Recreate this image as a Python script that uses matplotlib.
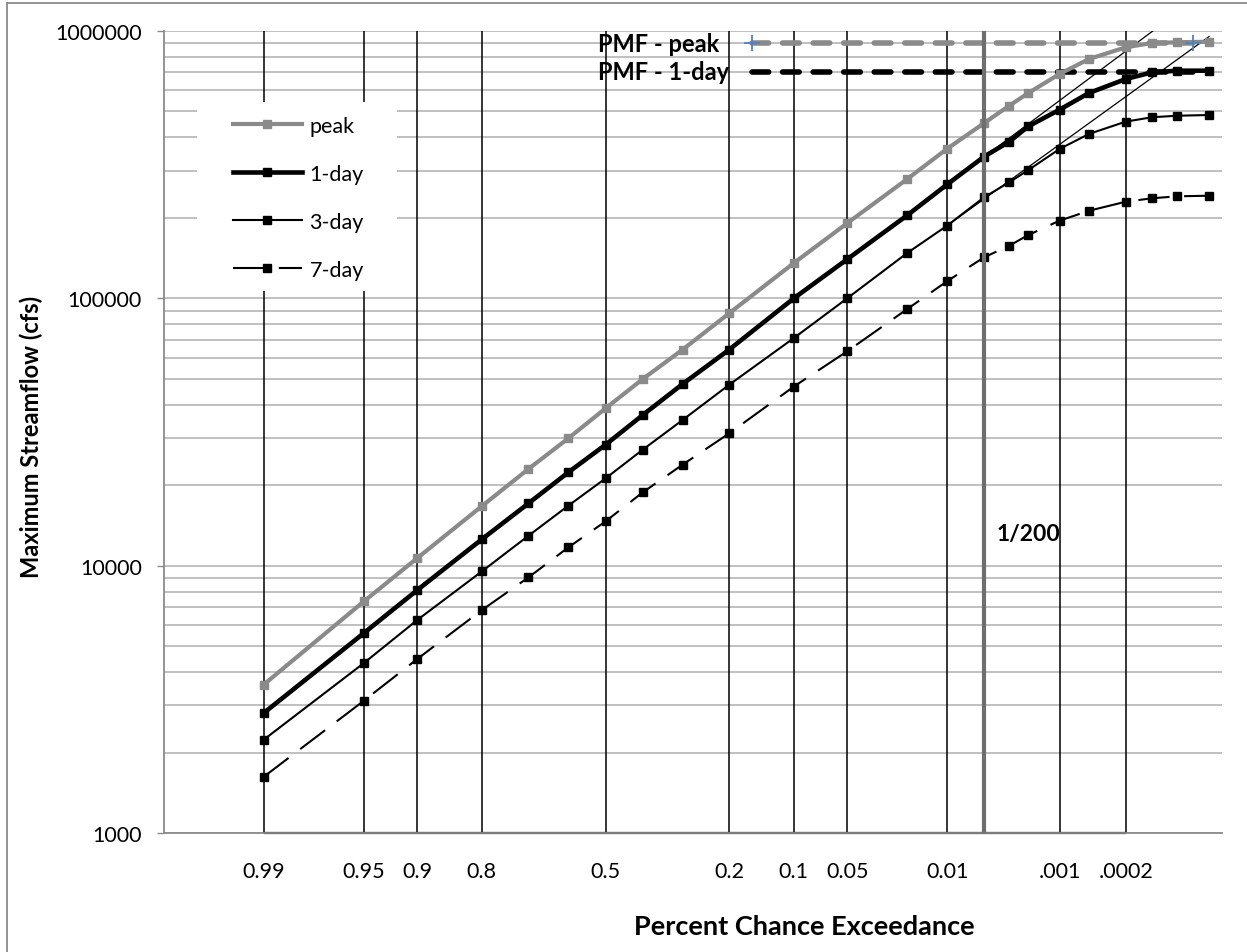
import statistics

import numpy as np
import matplotlib
matplotlib.use("Agg")
import matplotlib.pyplot as plt
from matplotlib.lines import Line2D
from matplotlib.patches import Rectangle
from matplotlib.ticker import FixedLocator, FixedFormatter, NullLocator

plt.rcParams['font.family'] = ['Lato', 'DejaVu Sans']

W, H = 1247, 953

# exceedance probability of each computed point
prob = [0.99, 0.95, 0.9, 0.8, 0.7, 0.6, 0.5, 0.4, 0.3, 0.2, 0.1, 0.05, 0.02,
        0.01, 0.005, 0.003, 0.002, 0.001, 0.0005, 0.0002, 0.0001, 0.00005, 0.00002]

# maximum streamflow (cfs)
peak = [3590, 7350, 10670, 16700, 23000, 29940, 38750, 49900, 64270, 87900,
        135500, 191000, 279500, 363000, 452000, 525500, 586200, 690500,
        785600, 868700, 901700, 907000, 912000]
day1 = [2810, 5594, 8100, 12550, 17100, 22340, 28330, 36590, 47790, 64270,
        100000, 140000, 204500, 267000, 338700, 385400, 440100, 507700,
        586200, 661000, 700300, 710500, 710500]
day3 = [2233, 4321, 6260, 9520, 12940, 16760, 21200, 27150, 35050, 47500,
        71000, 100000, 147800, 187200, 238600, 271600, 302000, 361900,
        412000, 458000, 475700, 482000, 485000]
day7 = [1622, 3124, 4475, 6820, 9040, 11700, 14640, 18800, 23860, 31250,
        46750, 63360, 91200, 116000, 142300, 157300, 172600, 195200,
        212600, 229800, 236700, 240800, 242000]

# straight log-normal extensions of the 1-day and 3-day curves
trend_prob = [0.01, 0.00002]
trend_1day = [267000, 1435000]
trend_3day = [187200, 953000]

# probable maximum flood
pmf_prob = [0.1587, 0.0000317]
pmf_peak = [905000, 905000]
pmf_1day = [700000, 700000]

grid_prob = [0.99, 0.95, 0.9, 0.8, 0.5, 0.2, 0.1, 0.05, 0.01, 0.001, 0.0002]
grid_labels = ['0.99', '0.95', '0.9', '0.8', '0.5', '0.2', '0.1', '0.05',
               '0.01', '.001', '.0002']
y_ticks = [1000, 10000, 100000, 1000000]
y_labels = ['1000', '10000', '100000', '1000000']

ND = statistics.NormalDist()
_ppf = np.vectorize(lambda p: ND.inv_cdf(min(max(p, 1e-12), 1 - 1e-12)),
                    otypes=[float])
_cdf = np.vectorize(ND.cdf, otypes=[float])


def fwd(p):
    return _ppf(np.asarray(p, dtype=float))


def inv(zv):
    return _cdf(np.asarray(zv, dtype=float))


def fx(px):
    return px / W


def fy(py):
    return 1 - py / H


GRAY = '#8a8a8a'
GRID = '#b5b5b5'

fig = plt.figure(figsize=(W / 100, H / 100), dpi=100)
ax = fig.add_axes([fx(164), fy(834), (1222 - 164) / W, (834 - 32) / H])

ax.set_xscale('function', functions=(fwd, inv))
ax.set_yscale('log')
ax.set_xlim(float(inv(3.005)), float(inv(-4.196)))
ax.set_ylim(1000, 1000000)

ax.xaxis.set_major_locator(FixedLocator(grid_prob))
ax.xaxis.set_major_formatter(FixedFormatter(grid_labels))
ax.xaxis.set_minor_locator(NullLocator())
ax.yaxis.set_major_locator(FixedLocator(y_ticks))
ax.yaxis.set_major_formatter(FixedFormatter(y_labels))

ax.grid(axis='y', which='both', color=GRID, lw=1.2, zorder=0)
ax.set_axisbelow(True)
for s in ['top', 'right']:
    ax.spines[s].set_visible(False)
for s in ['left', 'bottom']:
    ax.spines[s].set_color(GRAY)
    ax.spines[s].set_linewidth(1.3)

ax.tick_params(axis='y', which='major', direction='out', length=5, width=1,
               color=GRAY, pad=11, labelsize=15.5)
ax.tick_params(axis='y', which='minor', length=0)
ax.tick_params(axis='x', length=0, pad=20, labelsize=15.5)

# probability grid lines
ax.vlines(grid_prob, 1000, 1000000, color='black', lw=1.1, zorder=1)
ax.hlines(1000, grid_prob[0], grid_prob[-1], color='black', lw=1.6, zorder=1,
          clip_on=False)

# legend background
ax.add_patch(Rectangle(((197 - 164) / 1058, (834 - 292) / 802), 200 / 1058,
                       189 / 802, transform=ax.transAxes, facecolor='white',
                       edgecolor='none', zorder=2))

ax.plot(trend_prob, trend_1day, color='black', lw=0.9, zorder=3)
ax.plot(trend_prob, trend_3day, color='black', lw=0.9, zorder=3)

ax.plot(pmf_prob, pmf_peak, color=GRAY, lw=4, ls=(0, (3, 2.5)),
        dash_capstyle='round', zorder=3)
ax.plot(pmf_prob, pmf_1day, color='black', lw=4, ls=(0, (3, 2.5)),
        dash_capstyle='round', zorder=3)
ax.plot(pmf_prob, pmf_peak, ls='none', marker='+', ms=12, mew=1.3,
        color='#4f81bd', zorder=6)

h_peak, = ax.plot(prob, peak, color=GRAY, lw=3, marker='s', ms=6, zorder=4)
h_1, = ax.plot(prob, day1, color='black', lw=3.3, marker='s', ms=6, zorder=4)
h_3, = ax.plot(prob, day3, color='black', lw=1.5, marker='s', ms=6, zorder=4)
h_7, = ax.plot(prob, day7, color='black', lw=1.5, marker='s', ms=6,
               ls=(0, (15, 7)), zorder=4)

# 1 in 200 year line
ax.axvline(1 / 200, color='#6e6e6e', lw=3, zorder=5)

ax.legend([h_peak, h_1, h_3, h_7], ['peak', '1-day', '3-day', '7-day'],
          loc='upper left', bbox_to_anchor=((233 - 164) / 1058, (834 - 117) / 802),
          frameon=False, borderaxespad=0, borderpad=0, handlelength=3.2,
          handletextpad=0.35, labelspacing=1.3, fontsize=15.5)

fig.text(fx(598), fy(44), 'PMF - peak', fontsize=17, fontweight='bold',
         ha='left', va='center')
fig.text(fx(598), fy(73), 'PMF - 1-day', fontsize=17, fontweight='bold',
         ha='left', va='center')
fig.text(fx(997), fy(535), '1/200', fontsize=16.5, fontweight='bold',
         ha='left', va='center')

fig.text(fx(31), fy(437), 'Maximum Streamflow (cfs)', fontsize=17,
         fontweight='bold', rotation=90, ha='center', va='center')
fig.text(fx(804), fy(927), 'Percent Chance Exceedance', fontsize=19.5,
         fontweight='bold', ha='center', va='center')

# outer chart border
fig.add_artist(Line2D([fx(7), fx(7)], [0, fy(4)], transform=fig.transFigure,
                      color=GRAY, lw=1.3))
fig.add_artist(Line2D([fx(7), 1], [fy(4), fy(4)], transform=fig.transFigure,
                      color=GRAY, lw=1.3))

fig.savefig('out.png', dpi=100, facecolor='white')
